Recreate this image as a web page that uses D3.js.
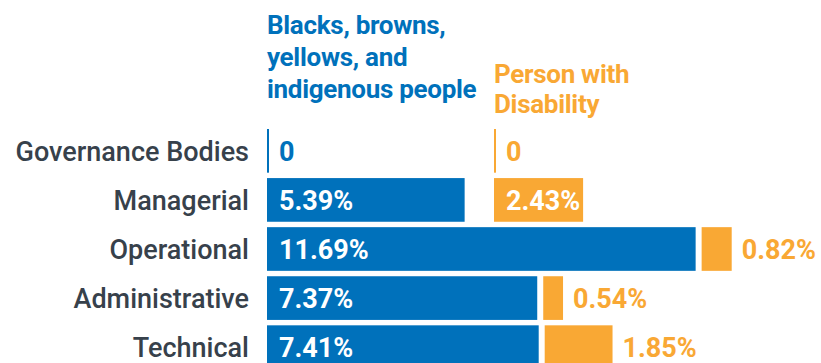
<!DOCTYPE html>
<html>
<head>
<meta charset="utf-8">
<script src="https://cdn.jsdelivr.net/npm/d3@7"></script>
<style>
  body { margin: 0; background: #fff; }
  text { font-family: Roboto, "Noto Sans", sans-serif; }
</style>
</head>
<body>
<div id="chart"></div>
<script>
// data
const categories = ["Governance Bodies", "Managerial", "Operational", "Administrative", "Technical"];
const raceValues = [0, 5.39, 11.69, 7.37, 7.41];
const disabilityValues = [0, 2.43, 0.82, 0.54, 1.85];
const seriesNames = [["Blacks, browns,", "yellows, and", "indigenous people"], ["Person with", "Disability"]];

const WIDTH = 821, HEIGHT = 363;
const BLUE = "#0071bb", ORANGE = "#f9a834", LABEL = "#37414b";
const X0 = 267, X1 = 494, GAP = 6;

const svg = d3.select("#chart").append("svg")
  .attr("width", WIDTH)
  .attr("height", HEIGHT);

const x = d3.scaleLinear().domain([0, 12]).range([0, 440]);
const y = d3.scaleBand().domain(categories).range([129, 369]).paddingInner(0.11);

// headers
svg.append("text")
  .attr("x", X0).attr("y", 34)
  .attr("fill", BLUE)
  .attr("font-size", "26px").attr("font-weight", "bold")
  .attr("letter-spacing", "-0.3px")
  .selectAll("tspan")
  .data(seriesNames[0])
  .join("tspan")
    .attr("x", X0)
    .attr("dy", (d, i) => i == 0 ? 0 : 32)
    .text(d => d);

svg.append("text")
  .attr("x", X1).attr("y", 83)
  .attr("fill", ORANGE)
  .attr("font-size", "26px").attr("font-weight", "bold")
  .attr("letter-spacing", "-0.3px")
  .selectAll("tspan")
  .data(seriesNames[1])
  .join("tspan")
    .attr("x", X1)
    .attr("dy", (d, i) => i == 0 ? 0 : 30)
    .text(d => d);

// category labels
svg.selectAll(".cat")
  .data(categories)
  .join("text")
    .attr("class", "cat")
    .attr("x", 249)
    .attr("y", d => y(d) + y.bandwidth() / 2)
    .attr("dy", "0.36em")
    .attr("text-anchor", "end")
    .attr("font-size", "27px")
    .attr("font-weight", 500)
    .attr("fill", LABEL)
    .text(d => d);

const rows = categories.map((c, i) => {
  const bw = x(raceValues[i]);
  const ox = Math.max(X1, X0 + bw + GAP);
  return [
    {cat: c, v: raceValues[i], x: X0, w: bw, color: BLUE},
    {cat: c, v: disabilityValues[i], x: ox, w: x(disabilityValues[i]), color: ORANGE}
  ];
}).flat();

svg.selectAll(".bar")
  .data(rows)
  .join("rect")
    .attr("class", "bar")
    .attr("x", d => d.x)
    .attr("y", d => y(d.cat))
    .attr("width", d => Math.max(2, d.w))
    .attr("height", y.bandwidth())
    .attr("fill", d => d.color);

const fmt = v => v == 0 ? "0" : v.toFixed(2) + "%";

svg.selectAll(".val")
  .data(rows)
  .join("text")
    .attr("class", "val")
    .attr("y", d => y(d.cat) + y.bandwidth() / 2)
    .attr("dy", "0.36em")
    .attr("font-size", "27px")
    .attr("font-weight", "bold")
    .text(d => fmt(d.v))
    .each(function(d) {
      const tw = this.getComputedTextLength();
      const inside = tw + 12 < d.w;
      d3.select(this)
        .attr("x", inside ? d.x + 12 : d.x + Math.max(2, d.w) + 10)
        .attr("fill", inside ? "#fff" : d.color);
    });
</script>
</body>
</html>
